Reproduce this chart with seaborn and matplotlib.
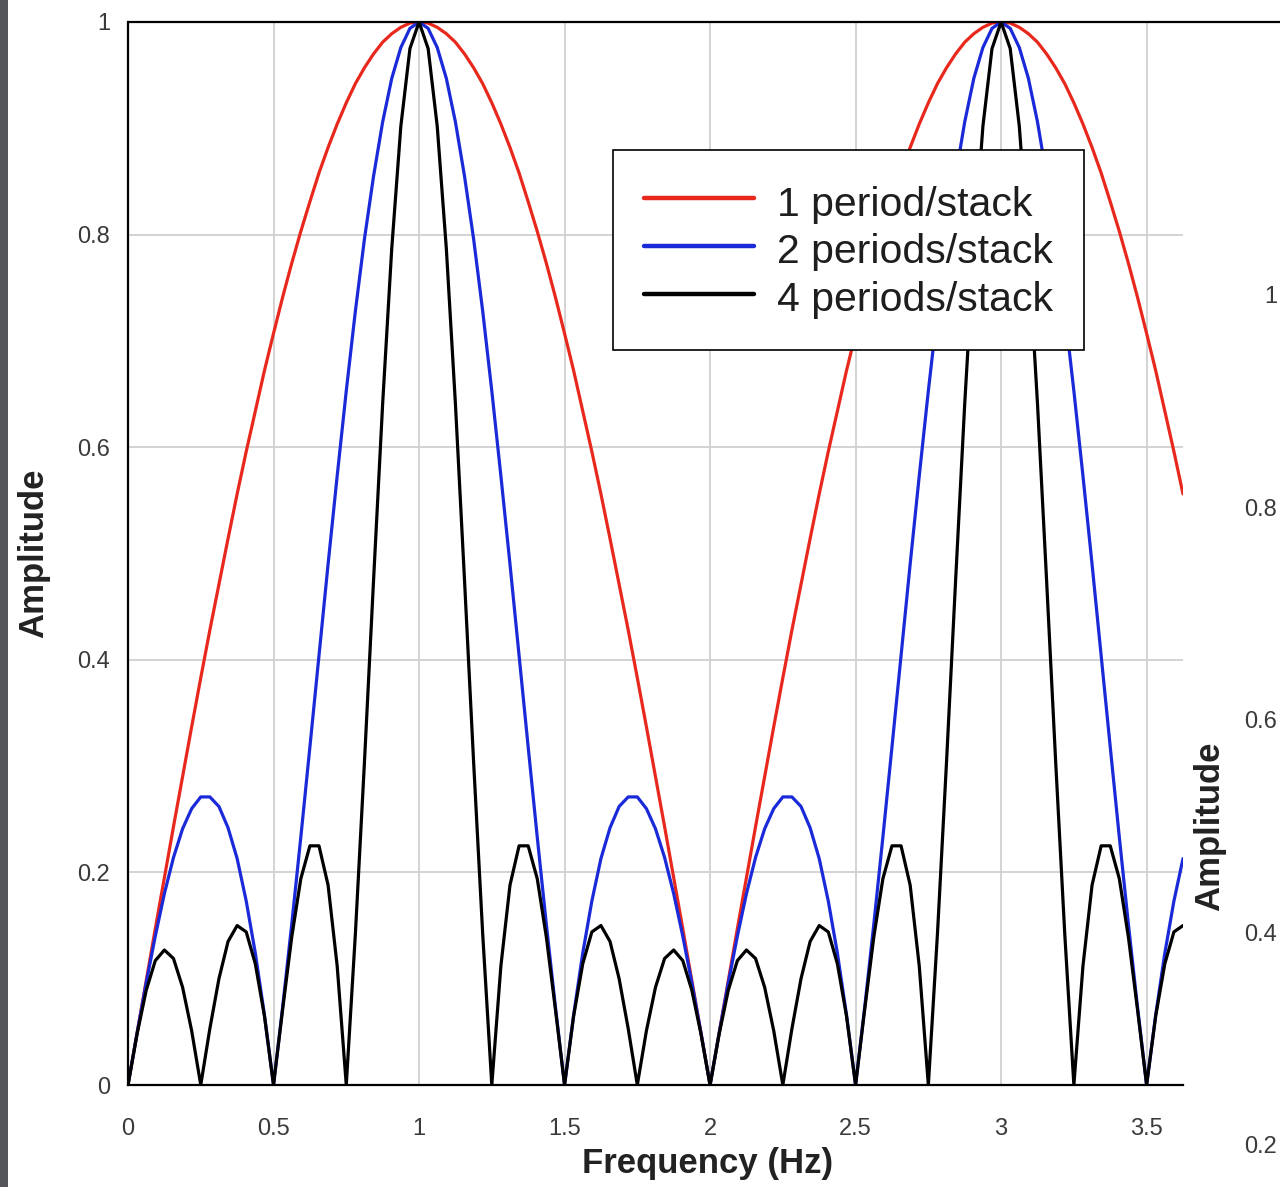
import numpy as np
import pandas as pd
import matplotlib
matplotlib.use("Agg")
import matplotlib.pyplot as plt
import seaborn as sns
from matplotlib.patches import Rectangle
from matplotlib.lines import Line2D

# ---------------- data ----------------
frequency = np.linspace(0.0, 3.625, 117)  # Hz, sampling grid

amp_1_period = [
    0.000, 0.049, 0.098, 0.147, 0.195, 0.243, 0.290, 0.337, 0.383, 0.428, 0.471, 0.514, 0.556, 0.596, 0.634, 0.672,
    0.707, 0.741, 0.773, 0.803, 0.831, 0.858, 0.882, 0.904, 0.924, 0.942, 0.957, 0.970, 0.981, 0.989, 0.995, 0.999, 1.000,
    0.999, 0.995, 0.989, 0.981, 0.970, 0.957, 0.942, 0.924, 0.904, 0.882, 0.858, 0.831, 0.803, 0.773, 0.741, 0.707,
    0.672, 0.634, 0.596, 0.556, 0.514, 0.471, 0.428, 0.383, 0.337, 0.290, 0.243, 0.195, 0.147, 0.098, 0.049, 0.000,
    0.049, 0.098, 0.147, 0.195, 0.243, 0.290, 0.337, 0.383, 0.428, 0.471, 0.514, 0.556, 0.596, 0.634, 0.672, 0.707,
    0.741, 0.773, 0.803, 0.831, 0.858, 0.882, 0.904, 0.924, 0.942, 0.957, 0.970, 0.981, 0.989, 0.995, 0.999, 1.000,
    0.999, 0.995, 0.989, 0.981, 0.970, 0.957, 0.942, 0.924, 0.904, 0.882, 0.858, 0.831, 0.803, 0.773, 0.741, 0.707,
    0.672, 0.634, 0.596, 0.556,
]

amp_2_periods = [
    0.000, 0.049, 0.096, 0.140, 0.180, 0.214, 0.241, 0.260, 0.271, 0.271, 0.262, 0.242, 0.213, 0.173, 0.124, 0.066,
    0.000, 0.073, 0.151, 0.233, 0.318, 0.404, 0.490, 0.573, 0.653, 0.728, 0.796, 0.855, 0.906, 0.947, 0.976, 0.994, 1.000,
    0.994, 0.976, 0.947, 0.906, 0.855, 0.796, 0.728, 0.653, 0.573, 0.490, 0.404, 0.318, 0.233, 0.151, 0.073, 0.000,
    0.066, 0.124, 0.173, 0.213, 0.242, 0.262, 0.271, 0.271, 0.260, 0.241, 0.214, 0.180, 0.140, 0.096, 0.049, 0.000,
    0.049, 0.096, 0.140, 0.180, 0.214, 0.241, 0.260, 0.271, 0.271, 0.262, 0.242, 0.213, 0.173, 0.124, 0.066, 0.000,
    0.073, 0.151, 0.233, 0.318, 0.404, 0.490, 0.573, 0.653, 0.728, 0.796, 0.855, 0.906, 0.947, 0.976, 0.994, 1.000,
    0.994, 0.976, 0.947, 0.906, 0.855, 0.796, 0.728, 0.653, 0.573, 0.490, 0.404, 0.318, 0.233, 0.151, 0.073, 0.000,
    0.066, 0.124, 0.173, 0.213,
]

amp_4_periods = [
    0.000, 0.048, 0.089, 0.117, 0.127, 0.119, 0.092, 0.051, 0.000, 0.053, 0.100, 0.135, 0.150, 0.144, 0.114, 0.065,
    0.000, 0.071, 0.139, 0.194, 0.225, 0.225, 0.188, 0.112, 0.000, 0.142, 0.304, 0.475, 0.641, 0.787, 0.902, 0.975, 1.000,
    0.975, 0.902, 0.787, 0.641, 0.475, 0.304, 0.142, 0.000, 0.112, 0.188, 0.225, 0.225, 0.194, 0.139, 0.071, 0.000,
    0.065, 0.114, 0.144, 0.150, 0.135, 0.100, 0.053, 0.000, 0.051, 0.092, 0.119, 0.127, 0.117, 0.089, 0.048, 0.000,
    0.048, 0.089, 0.117, 0.127, 0.119, 0.092, 0.051, 0.000, 0.053, 0.100, 0.135, 0.150, 0.144, 0.114, 0.065, 0.000,
    0.071, 0.139, 0.194, 0.225, 0.225, 0.188, 0.112, 0.000, 0.142, 0.304, 0.475, 0.641, 0.787, 0.902, 0.975, 1.000,
    0.975, 0.902, 0.787, 0.641, 0.475, 0.304, 0.142, 0.000, 0.112, 0.188, 0.225, 0.225, 0.194, 0.139, 0.071, 0.000,
    0.065, 0.114, 0.144, 0.150,
]

series_labels = ["1 period/stack", "2 periods/stack", "4 periods/stack"]
series_colors = ["#e8281c", "#1a2ad8", "#000000"]

x_ticks = [0, 0.5, 1, 1.5, 2, 2.5, 3, 3.5]
x_tick_labels = ["0", "0.5", "1", "1.5", "2", "2.5", "3", "3.5"]
y_ticks = [0, 0.2, 0.4, 0.6, 0.8, 1]
y_tick_labels = ["0", "0.2", "0.4", "0.6", "0.8", "1"]
side_tick_labels = ["1", "0.8", "0.6", "0.4", "0.2"]

# ---------------- build long-form table ----------------
df = pd.concat(
    [
        pd.DataFrame({"Frequency": frequency, "Amplitude": vals, "Series": lab})
        for vals, lab in zip([amp_1_period, amp_2_periods, amp_4_periods], series_labels)
    ],
    ignore_index=True,
)

sns.set_style("white")
plt.rcParams["font.family"] = ["Liberation Sans", "DejaVu Sans"]

W, H = 1280, 1187
fig = plt.figure(figsize=(W / 100, H / 100), dpi=100)
fig.patch.set_facecolor("white")

ax_l, ax_r, ax_t, ax_b = 128, 1183, 22, 1085
ax = fig.add_axes([ax_l / W, 1 - ax_b / H, (ax_r - ax_l) / W, (ax_b - ax_t) / H])

palette = dict(zip(series_labels, series_colors))
sns.lineplot(
    data=df, x="Frequency", y="Amplitude", hue="Series", hue_order=series_labels,
    palette=palette, linewidth=2.3, estimator=None, sort=False, legend=False, ax=ax,
)

ax.set_xlim(0, 3.625)
ax.set_ylim(0, 1)
ax.set_xticks(x_ticks)
ax.set_xticklabels(x_tick_labels)
ax.set_yticks(y_ticks)
ax.set_yticklabels(y_tick_labels)
ax.tick_params(axis="both", length=0, labelsize=17, labelcolor="#3a3a3a")
ax.tick_params(axis="x", pad=24)
ax.tick_params(axis="y", pad=13)
ax.grid(True, color="#d0d0d0", linewidth=1.3)
ax.set_axisbelow(True)

for side in ["left", "bottom"]:
    ax.spines[side].set_color("black")
    ax.spines[side].set_linewidth(1.6)
for side in ["right", "top"]:
    ax.spines[side].set_visible(False)

ax.set_xlabel("Frequency (Hz)", fontsize=25, fontweight="bold", color="#222222")
ax.set_ylabel("Amplitude", fontsize=25, fontweight="bold", color="#222222")
ax.xaxis.set_label_coords((708 - ax_l) / (ax_r - ax_l), -0.058)
ax.yaxis.set_label_coords(-0.074, 0.5)

handles = [Line2D([0], [0], color=c, linewidth=3.2) for c in series_colors]
leg = ax.legend(
    handles, series_labels, loc="upper left",
    bbox_to_anchor=((613 - ax_l) / (ax_r - ax_l), (ax_b - 150) / (ax_b - ax_t)),
    borderaxespad=0, fontsize=29.5, frameon=True, fancybox=False, framealpha=1,
    edgecolor="black", handlelength=2.7, handleheight=1.2, handletextpad=0.55,
    labelspacing=0.12, borderpad=0.75,
)
leg.get_frame().set_linewidth(1.2)
for t in leg.get_texts():
    t.set_color("#1e1e1e")

# top border line across the whole width
fig.add_artist(Line2D([ax_l / W, 1.0], [1 - ax_t / H, 1 - ax_t / H], color="black",
                      linewidth=1.6, transform=fig.transFigure))

# dark strip on the left edge
fig.add_artist(Rectangle((0, 0), 8 / W, 1, transform=fig.transFigure,
                         facecolor="#55565a", edgecolor="none"))

# partially visible second chart on the right
side_y = [297, 510, 722, 935, 1147]
for lab, yy in zip(side_tick_labels, side_y):
    fig.text(1277 / W, 1 - yy / H, lab, fontsize=17,
             color="#3a3a3a", ha="right", va="center")
fig.text(1210 / W, 1 - 826 / H, "Amplitude", rotation=90, fontsize=25,
         fontweight="bold", color="#222222", ha="center", va="center")

fig.savefig("out.png", dpi=100, facecolor="white")
